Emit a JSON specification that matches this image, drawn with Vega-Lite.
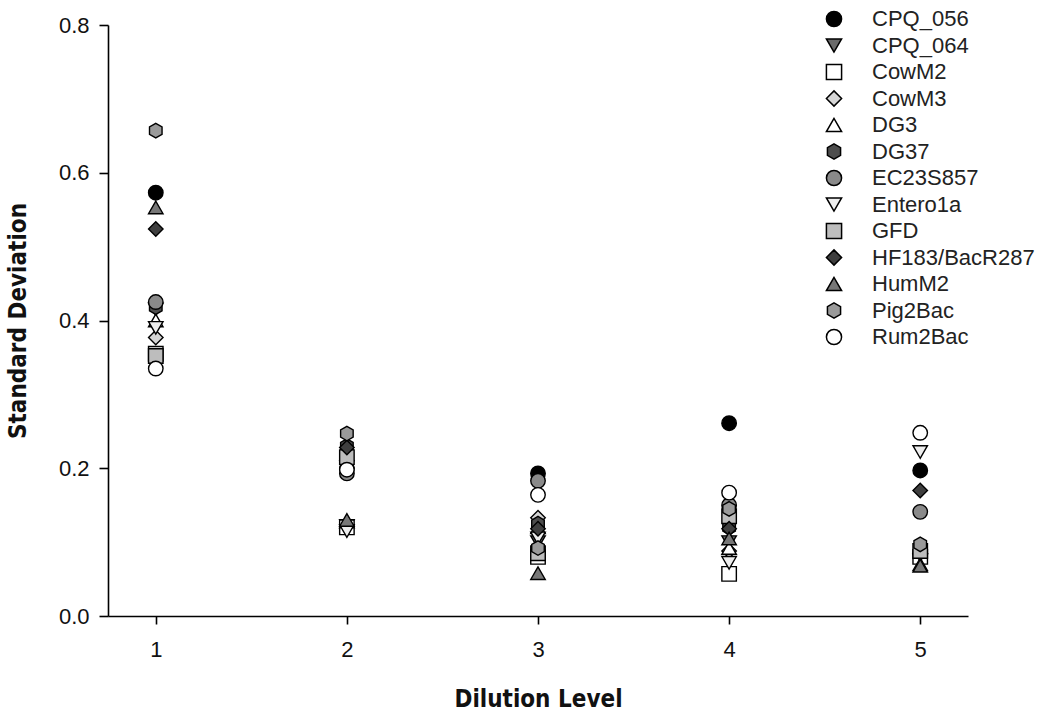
{
  "$schema": "https://vega.github.io/schema/vega-lite/v6.json",
  "width": 860,
  "height": 591,
  "autosize": {"type": "none"},
  "padding": {"left": 108, "top": 25, "right": 82, "bottom": 99},
  "background": "white",
  "config": {
    "view": {"stroke": null},
    "font": "Liberation Sans"
  },
  "data": {
    "values": [
      {"d": 1, "s": "CPQ_056", "v": 0.573},
      {"d": 1, "s": "CPQ_064", "v": 0.415},
      {"d": 1, "s": "CowM2", "v": 0.355},
      {"d": 1, "s": "CowM3", "v": 0.377},
      {"d": 1, "s": "DG3", "v": 0.400},
      {"d": 1, "s": "DG37", "v": 0.418},
      {"d": 1, "s": "EC23S857", "v": 0.425},
      {"d": 1, "s": "Entero1a", "v": 0.390},
      {"d": 1, "s": "GFD", "v": 0.352},
      {"d": 1, "s": "HF183/BacR287", "v": 0.524},
      {"d": 1, "s": "HumM2", "v": 0.553},
      {"d": 1, "s": "Pig2Bac", "v": 0.657},
      {"d": 1, "s": "Rum2Bac", "v": 0.335},
      {"d": 2, "s": "CPQ_056", "v": 0.200},
      {"d": 2, "s": "CPQ_064", "v": 0.122},
      {"d": 2, "s": "CowM2", "v": 0.120},
      {"d": 2, "s": "CowM3", "v": 0.210},
      {"d": 2, "s": "DG3", "v": 0.128},
      {"d": 2, "s": "DG37", "v": 0.230},
      {"d": 2, "s": "EC23S857", "v": 0.193},
      {"d": 2, "s": "Entero1a", "v": 0.115},
      {"d": 2, "s": "GFD", "v": 0.215},
      {"d": 2, "s": "HF183/BacR287", "v": 0.228},
      {"d": 2, "s": "HumM2", "v": 0.130},
      {"d": 2, "s": "Pig2Bac", "v": 0.247},
      {"d": 2, "s": "Rum2Bac", "v": 0.198},
      {"d": 3, "s": "CPQ_056", "v": 0.193},
      {"d": 3, "s": "CPQ_064", "v": 0.100},
      {"d": 3, "s": "CowM2", "v": 0.080},
      {"d": 3, "s": "CowM3", "v": 0.133},
      {"d": 3, "s": "DG3", "v": 0.120},
      {"d": 3, "s": "DG37", "v": 0.125},
      {"d": 3, "s": "EC23S857", "v": 0.183},
      {"d": 3, "s": "Entero1a", "v": 0.105},
      {"d": 3, "s": "GFD", "v": 0.085},
      {"d": 3, "s": "HF183/BacR287", "v": 0.118},
      {"d": 3, "s": "HumM2", "v": 0.058},
      {"d": 3, "s": "Pig2Bac", "v": 0.092},
      {"d": 3, "s": "Rum2Bac", "v": 0.164},
      {"d": 4, "s": "CPQ_056", "v": 0.261},
      {"d": 4, "s": "CPQ_064", "v": 0.100},
      {"d": 4, "s": "CowM2", "v": 0.057},
      {"d": 4, "s": "CowM3", "v": 0.088},
      {"d": 4, "s": "DG3", "v": 0.092},
      {"d": 4, "s": "DG37", "v": 0.120},
      {"d": 4, "s": "EC23S857", "v": 0.150},
      {"d": 4, "s": "Entero1a", "v": 0.072},
      {"d": 4, "s": "GFD", "v": 0.135},
      {"d": 4, "s": "HF183/BacR287", "v": 0.118},
      {"d": 4, "s": "HumM2", "v": 0.105},
      {"d": 4, "s": "Pig2Bac", "v": 0.145},
      {"d": 4, "s": "Rum2Bac", "v": 0.167},
      {"d": 5, "s": "CPQ_056", "v": 0.197},
      {"d": 5, "s": "CPQ_064", "v": 0.075},
      {"d": 5, "s": "CowM2", "v": 0.080},
      {"d": 5, "s": "CowM3", "v": 0.085},
      {"d": 5, "s": "DG3", "v": 0.070},
      {"d": 5, "s": "DG37", "v": 0.090},
      {"d": 5, "s": "EC23S857", "v": 0.141},
      {"d": 5, "s": "Entero1a", "v": 0.222},
      {"d": 5, "s": "GFD", "v": 0.088},
      {"d": 5, "s": "HF183/BacR287", "v": 0.170},
      {"d": 5, "s": "HumM2", "v": 0.068},
      {"d": 5, "s": "Pig2Bac", "v": 0.097},
      {"d": 5, "s": "Rum2Bac", "v": 0.248}
    ]
  },
  "mark": {"type": "point", "filled": true, "stroke": "black", "strokeWidth": 1.4, "size": 210, "opacity": 1},
  "encoding": {
    "x": {
      "field": "d", "type": "quantitative",
      "scale": {"domain": [0.75, 5.25], "nice": false, "zero": false},
      "axis": {
        "title": "Dilution Level", "values": [1, 2, 3, 4, 5], "grid": false,
        "domainColor": "black", "domainWidth": 1.6, "tickColor": "black", "tickWidth": 1.6, "tickSize": 8,
        "labelFontSize": 22, "labelColor": "#111", "labelPadding": 15, "labelFont": "Liberation Sans",
        "titleFontSize": 24, "titleFont": "DejaVu Sans Condensed, Liberation Sans", "titleFontWeight": "bold", "titleColor": "#111", "titlePadding": 27
      }
    },
    "y": {
      "field": "v", "type": "quantitative",
      "scale": {"domain": [0, 0.8], "nice": false},
      "axis": {
        "title": "Standard Deviation", "values": [0, 0.2, 0.4, 0.6, 0.8], "format": ".1f", "grid": false,
        "domainColor": "black", "domainWidth": 1.6, "tickColor": "black", "tickWidth": 1.6, "tickSize": 9,
        "labelFontSize": 22, "labelColor": "#111", "labelPadding": 10, "labelFont": "Liberation Sans",
        "titleFontSize": 24, "titleFont": "DejaVu Sans Condensed, Liberation Sans", "titleFontWeight": "bold", "titleColor": "#111", "titlePadding": 28
      }
    },
    "shape": {
      "field": "s", "type": "nominal",
      "scale": {
        "domain": ["CPQ_056", "CPQ_064", "CowM2", "CowM3", "DG3", "DG37", "EC23S857", "Entero1a", "GFD", "HF183/BacR287", "HumM2", "Pig2Bac", "Rum2Bac"],
        "range": ["circle", "triangle-down", "square", "diamond", "triangle-up", "M0,-1L0.866,-0.5L0.866,0.5L0,1L-0.866,0.5L-0.866,-0.5Z", "circle", "triangle-down", "square", "diamond", "triangle-up", "M0,-1L0.866,-0.5L0.866,0.5L0,1L-0.866,0.5L-0.866,-0.5Z", "circle"]
      },
      "legend": {
        "title": null, "orient": "none", "legendX": 715, "legendY": -17,
        "labelFontSize": 22, "labelColor": "#222", "labelFont": "Liberation Sans", "labelLimit": 0, "rowPadding": 4.5, "symbolSize": 230, "labelOffset": 27,
        "encode": {"symbols": {"update": {"stroke": {"value": "black"}, "strokeWidth": {"value": 1.4}, "opacity": {"value": 1}}}}
      }
    },
    "fill": {
      "field": "s", "type": "nominal",
      "scale": {
        "domain": ["CPQ_056", "CPQ_064", "CowM2", "CowM3", "DG3", "DG37", "EC23S857", "Entero1a", "GFD", "HF183/BacR287", "HumM2", "Pig2Bac", "Rum2Bac"],
        "range": ["#000000", "#6a6a6a", "#ffffff", "#d6d6d6", "#ffffff", "#4d4d4d", "#8a8a8a", "#eeeeee", "#bdbdbd", "#3f3f3f", "#777777", "#9a9a9a", "#ffffff"]
      },
      "legend": {
        "title": null, "orient": "none", "legendX": 715, "legendY": -17,
        "labelFontSize": 22, "labelColor": "#222", "labelFont": "Liberation Sans", "labelLimit": 0, "rowPadding": 4.5, "symbolSize": 230, "labelOffset": 27,
        "encode": {"symbols": {"update": {"stroke": {"value": "black"}, "strokeWidth": {"value": 1.4}, "opacity": {"value": 1}}}}
      }
    }
  }
}
